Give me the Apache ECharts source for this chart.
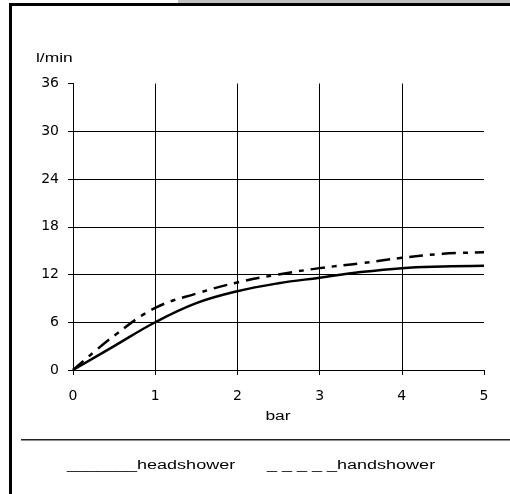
<!DOCTYPE html>
<html><head><meta charset="utf-8">
<script src="https://cdn.jsdelivr.net/npm/echarts@6/dist/echarts.min.js"></script>
<style>html,body{margin:0;padding:0;background:#fff}#c{width:510px;height:494px}</style>
</head><body><div id="c"></div>
<script>
var pressure = [0, 0.5, 1, 1.5, 2, 2.5, 3, 3.5, 4, 4.5, 5];
var headshower = [0, 3.0, 6.0, 8.4, 9.9, 10.9, 11.6, 12.3, 12.8, 13.0, 13.1];
var handshower = [0, 4.3, 7.8, 9.6, 11.0, 12.0, 12.8, 13.4, 14.1, 14.6, 14.8];
var yTicks = [0, 6, 12, 18, 24, 30, 36];
var xTicks = [0, 1, 2, 3, 4, 5];
var legendHead = '_______headshower';
var legendHand = '_ _ _ _ _handshower';
var yName = 'l/min';
var xName = 'bar';

function pairs(xs, ys){ return xs.map(function(x,i){ return [x, ys[i]]; }); }
var chart = echarts.init(document.getElementById('c'), null, {renderer:'canvas'});
var font = 'Liberation Sans, Arial, sans-serif';
var tickFont = 'DejaVu Sans, sans-serif';
var sx = 1.45;
chart.setOption({
  animation: false,
  backgroundColor: '#fff',
  grid: {left: 73, right: 26, top: 83.5, bottom: 124, containLabel: false},
  xAxis: {
    type: 'value', min: xTicks[0], max: xTicks[xTicks.length-1], interval: 1,
    axisLine: {show: true, lineStyle: {color: '#000', width: 1}},
    axisTick: {show: true, length: 5, lineStyle: {color: '#000'}},
    axisLabel: {color: '#000', fontFamily: tickFont, fontSize: 14, margin: 19},
    splitLine: {show: true, lineStyle: {color: ['#000','#000','#000','#000','#000','rgba(0,0,0,0)'], width: 1}}
  },
  yAxis: {
    type: 'value', min: yTicks[0], max: yTicks[yTicks.length-1], interval: 6,
    axisLine: {show: true, lineStyle: {color: '#000', width: 1}},
    axisTick: {show: true, length: 5, lineStyle: {color: '#000'}},
    axisLabel: {color: '#000', fontFamily: tickFont, fontSize: 14, margin: 14},
    splitLine: {show: true, lineStyle: {color: ['#000','#000','#000','#000','#000','#000','rgba(0,0,0,0)'], width: 1}}
  },
  series: [
    {name: 'headshower', type: 'line', smooth: 0.4, symbol: 'none', data: pairs(pressure, headshower),
     lineStyle: {color: '#000', width: 2.5}},
    {name: 'handshower', type: 'line', smooth: 0.4, symbol: 'none', data: pairs(pressure, handshower),
     lineStyle: {color: '#000', width: 2.5, type: [14, 7, 5, 7]}}
  ],
  graphic: [
    {type: 'rect', shape: {x: 178, y: 0, width: 332, height: 4}, style: {fill: '#c0c0c0'}, z: 10},
    {type: 'rect', shape: {x: 9, y: 3, width: 501, height: 3}, style: {fill: '#000'}, z: 10},
    {type: 'rect', shape: {x: 9, y: 3, width: 3, height: 491}, style: {fill: '#000'}, z: 10},
    {type: 'rect', shape: {x: 21, y: 439, width: 489, height: 1.5}, style: {fill: '#222'}, z: 10},
    {type: 'text', x: 36, y: 53, scaleX: sx, style: {text: yName, fill: '#000', font: '12px ' + font}, z: 10},
    {type: 'text', x: 278, y: 411, scaleX: sx, style: {text: xName, fill: '#000', font: '12px ' + font, textAlign: 'center'}, z: 10},
    {type: 'text', x: 67, y: 460, scaleX: 1.5, style: {text: legendHead, fill: '#000', font: '12px ' + font}, z: 10},
    {type: 'text', x: 267, y: 460, scaleX: 1.5, style: {text: legendHand, fill: '#000', font: '12px ' + font}, z: 10}
  ]
});
</script></body></html>
